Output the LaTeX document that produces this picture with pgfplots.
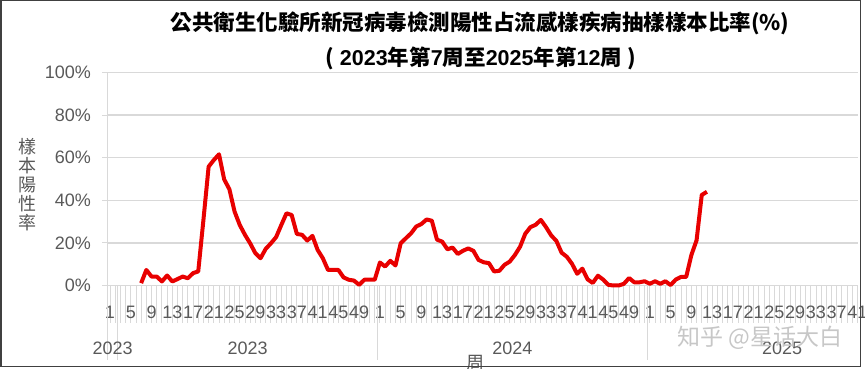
\documentclass[border=0pt]{standalone}
\usepackage{pgfplots}
\pgfplotsset{compat=1.18}
\usepackage{fontspec}
\setmainfont{Liberation Sans}
\newfontfamily\cjk{Noto Sans CJK TC}
\newfontfamily\cjksc{Noto Sans CJK SC}
\definecolor{txt}{HTML}{595959}
\definecolor{gridc}{HTML}{D9D9D9}
\definecolor{lred}{HTML}{E80000}
\definecolor{frame}{HTML}{404040}

\pgfplotstableread{
p v
6 1.1
7 7.3
8 4.2
9 4.2
10 1.9
11 4.7
12 1.9
13 3.0
14 4.2
15 3.4
16 5.8
17 6.6
18 30.8
19 55.8
20 58.9
21 61.6
22 49.8
23 45.2
24 34.7
25 28.4
26 23.8
27 19.8
28 15.2
29 12.8
30 17.2
31 19.8
32 22.7
33 28.4
34 33.9
35 33.1
36 24.2
37 23.8
38 21.1
39 23.3
40 16.7
41 12.8
42 7.3
43 7.3
44 7.3
45 3.8
46 2.7
47 2.3
48 0.3
49 2.7
50 2.7
51 2.7
52 10.8
53 8.9
54 11.6
55 9.4
56 19.8
57 22.2
58 24.5
59 27.7
60 28.9
61 31.0
62 30.4
63 21.5
64 20.6
65 17.0
66 17.8
67 14.8
68 16.3
69 17.4
70 16.3
71 12.0
72 10.9
73 10.5
74 6.6
75 6.9
76 9.7
77 11.2
78 14.3
79 18.2
80 24.3
81 27.4
82 28.5
83 30.8
84 27.4
85 23.5
86 20.9
87 15.4
88 13.5
89 10.2
90 5.5
91 7.9
92 2.9
93 1.2
94 4.6
95 2.8
96 0.3
97 0
98 0
99 0.8
100 3.5
101 1.5
102 1.5
103 2.0
104 0.8
105 2.0
106 0.8
107 2.0
108 0.2
109 2.8
110 4.0
111 4.0
112 14.3
113 21.2
114 42.5
115 44.0
}\datatable

\begin{document}
\begin{tikzpicture}[x=1pt,y=1pt]
\begin{axis}[
  at={(107.4pt,83.5pt)}, anchor=south west,
  scale only axis, width=750.6pt, height=213pt,
  xmin=-0.5, xmax=144.1, ymin=0, ymax=100,
  axis x line*=bottom, axis y line*=left,
  axis line style={draw=gridc, line width=1.3pt},
  clip=false,
  ytick={0,20,40,60,80,100},
  yticklabels={0\%,20\%,40\%,60\%,80\%,100\%},
  ytick style={draw=none},
  extra y ticks={0,20,40,60,80,100},
  extra y tick labels={},
  extra y tick style={major tick length=5pt, tick align=outside, ytick style={draw=gridc, line width=1pt}},
  ymajorgrids, grid style={draw=gridc, line width=1.3pt},
  xtick={0,4,...,144},
  xticklabels={1,5,9,13,17,21,25,29,33,37,41,45,49,1,5,9,13,17,21,25,29,33,37,41,45,49,1,5,9,13,17,21,25,29,33,37,41},
  minor x tick num=3,
  tick align=outside,
  major tick length=37pt, minor tick length=37pt,
  xtick style={draw=gridc, line width=0.9pt},
  ticklabel style={text=txt, font=\fontsize{18}{20}\selectfont},
  xticklabel style={anchor=center, yshift=10pt, inner sep=0pt},
  yticklabel style={anchor=east, xshift=24pt},
]
\addplot[lred, line width=4pt, line join=round] table[x=p, y=v] {\datatable};
\draw[gridc, line width=1pt] (axis cs:-0.45,0) -- ++(0pt,-75pt);
\draw[gridc, line width=1pt] (axis cs:1.5,0) -- ++(0pt,-75pt);
\draw[gridc, line width=1pt] (axis cs:51.5,0) -- ++(0pt,-75pt);
\draw[gridc, line width=1pt] (axis cs:103.5,0) -- ++(0pt,-75pt);
\node[text=txt, font=\fontsize{18}{20}\selectfont] at (axis cs:0.5,0) [yshift=-63pt] {2023};
\node[text=txt, font=\fontsize{18}{20}\selectfont] at (axis cs:26.5,0) [yshift=-63pt] {2023};
\node[text=txt, font=\fontsize{18}{20}\selectfont] at (axis cs:77.5,0) [yshift=-63pt] {2024};
\node[text=txt, font=\fontsize{18}{20}\selectfont] at (axis cs:129.5,0) [yshift=-63pt] {2025};
\end{axis}
\node[font=\cjk\bfseries\fontsize{21.5}{23}\selectfont] at (480,346) {公共衛生化驗所新冠病毒檢測陽性占流感樣疾病抽樣樣本比率(\%)};
\node[font=\bfseries\fontsize{21.5}{23}\selectfont] at (481,311) {{\cjk (}\ 2023{\cjk 年第}7{\cjk 周至}2025{\cjk 年第}12{\cjk 周}\ {\cjk )}};
\node[text=txt, font=\cjk\fontsize{18}{19}\selectfont, align=center] at (27,184) {樣\\本\\陽\\性\\率};
\node[text=txt, font=\cjk\fontsize{18}{20}\selectfont] at (475,6) {周};
\node[text=black!22, font=\cjksc\fontsize{23}{25}\selectfont] at (760,31) {知乎 @星话大白};
\draw[frame, line width=1.5pt] (0.75,2.5) rectangle (860.5,368.25);
\pgfresetboundingbox
\useasboundingbox (0,0) rectangle (865,369);
\end{tikzpicture}
\end{document}
